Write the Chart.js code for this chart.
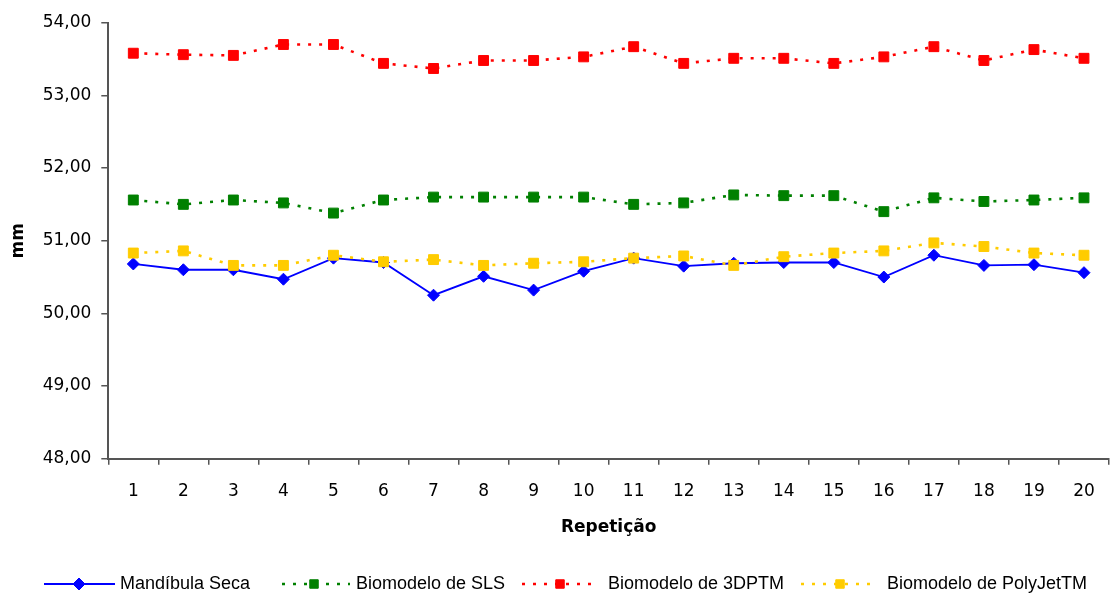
<!DOCTYPE html>
<html>
<head>
<meta charset="utf-8">
<script src="https://cdn.jsdelivr.net/npm/chart.js@4.4.1/dist/chart.umd.min.js"></script>
<style>
  html, body { margin: 0; padding: 0; background: #fff; }
  #wrap { width: 1117px; height: 596px; position: relative; }
</style>
</head>
<body>
<div id="wrap"><canvas id="c" width="1117" height="596"></canvas></div>
<script>
const categories = ['1','2','3','4','5','6','7','8','9','10','11','12','13','14','15','16','17','18','19','20'];
const mandibulaSeca = [50.68,50.60,50.60,50.47,50.76,50.70,50.25,50.51,50.32,50.58,50.76,50.65,50.69,50.70,50.70,50.50,50.80,50.66,50.67,50.56];
const biomodeloSLS = [51.56,51.50,51.56,51.52,51.38,51.56,51.60,51.60,51.60,51.60,51.50,51.52,51.63,51.62,51.62,51.40,51.59,51.54,51.56,51.59];
const biomodelo3DP = [53.58,53.56,53.55,53.70,53.70,53.44,53.37,53.48,53.48,53.53,53.67,53.44,53.51,53.51,53.44,53.53,53.67,53.48,53.63,53.51];
const biomodeloPolyJet = [50.83,50.86,50.66,50.66,50.80,50.71,50.74,50.66,50.69,50.71,50.76,50.79,50.66,50.78,50.83,50.86,50.97,50.92,50.83,50.80];
const seriesNames = ['Mandíbula Seca','Biomodelo de SLS','Biomodelo de 3DPTM','Biomodelo de PolyJetTM'];
const yTitle = 'mm';
const xTitle = 'Repetição';

const AXFONT = "'DejaVu Sans', sans-serif";
const LGFONT = "'Liberation Sans', Arial, sans-serif";
const DOT = [3, 8];

function ds(label, data, color, style, dashed, order) {
  return {
    label, data,
    borderColor: color, backgroundColor: color,
    borderWidth: dashed ? 2.6 : 1.8,
    borderDash: dashed ? DOT : [],
    pointStyle: style,
    pointRadius: style === 'rectRot' ? 6 : 7,
    pointBorderWidth: 1,
    pointBorderColor: color, pointBackgroundColor: color,
    tension: 0, order, fill: false
  };
}

const legendPlugin = {
  id: 'customLegend',
  afterDraw(chart) {
    const ctx = chart.ctx;
    const y = 584;
    const items = [
      {line: [44, 115], mark: 79, text: 120},
      {line: [282, 350], mark: 314, text: 356},
      {line: [522, 598], mark: 560, text: 608},
      {line: [801, 878], mark: 840, text: 887}
    ];
    chart.data.datasets.forEach((d, i) => {
      const it = items[i];
      ctx.save();
      ctx.strokeStyle = d.borderColor;
      ctx.lineWidth = d.borderWidth;
      ctx.setLineDash(d.borderDash);
      ctx.beginPath();
      ctx.moveTo(it.line[0], y);
      ctx.lineTo(it.line[1], y);
      ctx.stroke();
      ctx.setLineDash([]);
      ctx.fillStyle = d.borderColor;
      ctx.strokeStyle = d.borderColor;
      ctx.lineWidth = 1;
      Chart.helpers.drawPoint(ctx, {pointStyle: d.pointStyle, radius: d.pointStyle === 'rectRot' ? 6 : 6, borderWidth: 1}, it.mark, y);
      ctx.fillStyle = '#000';
      ctx.font = '18px ' + LGFONT;
      ctx.textBaseline = 'middle';
      ctx.textAlign = 'left';
      ctx.fillText(d.label, it.text, y);
      ctx.restore();
    });
  }
};

new Chart(document.getElementById('c'), {
  type: 'line',
  data: {
    labels: categories,
    datasets: [
      ds(seriesNames[0], mandibulaSeca, '#0000FF', 'rectRot', false, 3),
      ds(seriesNames[1], biomodeloSLS, '#008000', 'rect', true, 2),
      ds(seriesNames[2], biomodelo3DP, '#FF0000', 'rect', true, 1),
      ds(seriesNames[3], biomodeloPolyJet, '#FFCC00', 'rect', true, 0)
    ]
  },
  options: {
    responsive: false,
    animation: false,
    events: [],
    layout: { padding: { top: 22.7, right: 5, left: 0, bottom: 58 } },
    plugins: { legend: { display: false }, tooltip: { enabled: false } },
    scales: {
      x: {
        offset: true,
        grid: { offset: true, drawOnChartArea: false, drawTicks: true, tickLength: 6, color: '#555', lineWidth: 1.5 },
        border: { display: true, color: '#555', width: 2 },
        ticks: { color: '#000', font: { family: AXFONT, size: 17 }, padding: 17, maxRotation: 0, autoSkip: false },
        title: { display: true, text: xTitle, color: '#000', font: { family: AXFONT, size: 17, weight: 'bold' }, padding: { top: 0, bottom: 0 } },
        afterFit(s) { s.height = 79.3; }
      },
      y: {
        min: 48, max: 54,
        grid: { drawOnChartArea: false, drawTicks: true, tickLength: 7, color: '#555', lineWidth: 1.5 },
        border: { display: true, color: '#555', width: 2 },
        ticks: { stepSize: 1, color: '#000', font: { family: AXFONT, size: 17 }, padding: 10,
                 callback: v => v.toFixed(2).replace('.', ',') },
        title: { display: true, text: yTitle, color: '#000', font: { family: AXFONT, size: 17, weight: 'bold' }, padding: { top: 8, bottom: 0 } },
        afterFit(s) { s.width = 108.3; }
      }
    }
  },
  plugins: [legendPlugin]
});
</script>
</body>
</html>
